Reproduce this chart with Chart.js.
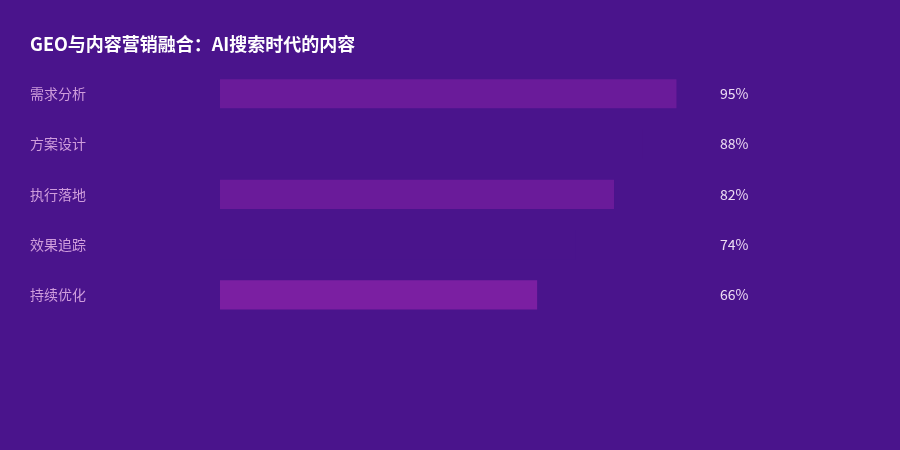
<!DOCTYPE html>
<html>
<head>
<meta charset="utf-8">
<script src="https://cdn.jsdelivr.net/npm/chart.js@4/dist/chart.umd.min.js"></script>
<style>
html,body{margin:0;padding:0;background:#4a148c;}
#wrap{width:900px;height:450px;position:relative;}
</style>
</head>
<body>
<div id="wrap"><canvas id="c" width="900" height="450"></canvas></div>
<script>
const titleText = 'GEO与内容营销融合：AI搜索时代的内容';
const categories = ['需求分析', '方案设计', '执行落地', '效果追踪', '持续优化'];
const values = [95, 88, 82, 74, 66];
const valueLabels = ['95%', '88%', '82%', '74%', '66%'];
const barColors = ['#6a1b9a', '#4a148c', '#6a1b9a', '#4a148c', '#7b1fa2'];

const FONT = '"Noto Sans CJK SC", "Noto Sans", sans-serif';

const valuePlugin = {
  id: 'valueLabels',
  afterDatasetsDraw(chart) {
    const ctx = chart.ctx;
    const x = chart.scales.x;
    const y = chart.scales.y;
    ctx.save();
    ctx.font = '14px ' + FONT;
    ctx.fillStyle = '#eddcf3';
    ctx.textAlign = 'left';
    ctx.textBaseline = 'middle';
    valueLabels.forEach((t, i) => {
      ctx.fillText(t, x.right + 19.5, y.getPixelForValue(i));
    });
    ctx.restore();
  }
};

new Chart(document.getElementById('c'), {
  type: 'bar',
  data: {
    labels: categories,
    datasets: [{
      data: values,
      backgroundColor: barColors,
      borderWidth: 0,
      barPercentage: 0.58,
      categoryPercentage: 1
    }]
  },
  options: {
    indexAxis: 'y',
    responsive: false,
    animation: false,
    devicePixelRatio: 1,
    layout: { padding: { left: 30, right: 199.5, top: 0, bottom: 130 } },
    plugins: {
      legend: { display: false },
      tooltip: { enabled: false },
      title: {
        display: true,
        text: titleText,
        align: 'start',
        color: '#ffffff',
        font: { family: FONT, size: 18, weight: 'bold' },
        padding: { top: 33, bottom: 14 }
      }
    },
    scales: {
      x: {
        display: false,
        min: 0,
        max: 100
      },
      y: {
        grid: { display: false, drawBorder: false },
        border: { display: false },
        ticks: {
          crossAlign: 'far',
          color: '#cf9ddc',
          font: { family: FONT, size: 14 },
          padding: 0
        },
        afterFit(scale) { scale.width = 190; }
      }
    }
  },
  plugins: [valuePlugin]
});
</script>
</body>
</html>
